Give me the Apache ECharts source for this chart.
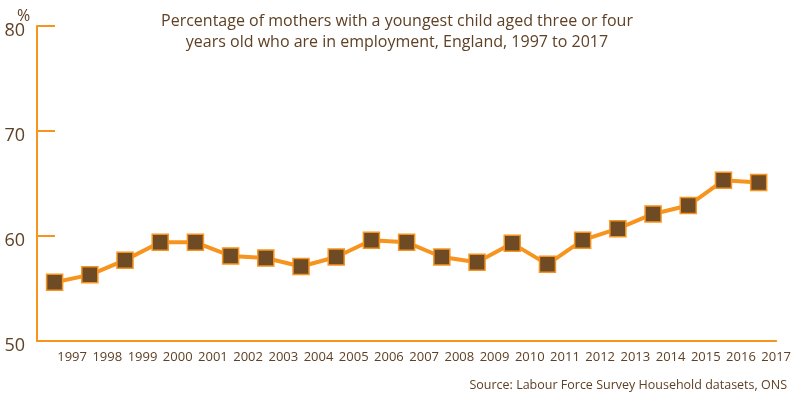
<!DOCTYPE html>
<html>
<head>
<meta charset="utf-8">
<script src="https://cdn.jsdelivr.net/npm/echarts@6/dist/echarts.min.js"></script>
<style>
  html, body { margin: 0; padding: 0; background: #fff; }
  #chart { width: 794px; height: 396px; }
</style>
</head>
<body>
<div id="chart"></div>
<script>
const years = ['1997', '1998', '1999', '2000', '2001', '2002', '2003', '2004', '2005', '2006', '2007',
  '2008', '2009', '2010', '2011', '2012', '2013', '2014', '2015', '2016', '2017'];
const employed = [55.6, 56.3, 57.7, 59.4, 59.4, 58.1, 57.9, 57.1, 58.0, 59.6, 59.4,
  58.0, 57.5, 59.3, 57.3, 59.6, 60.7, 62.1, 62.9, 65.3, 65.1];

const orange = '#F7941E';
const brown = '#6E4B25';
const textColor = '#5F4125';
const font = 'Open Sans';

const chart = echarts.init(document.getElementById('chart'));

const titleStyle = {
  fontFamily: font,
  fontSize: 16,
  fontWeight: 'normal',
  color: textColor
};

const option = {
  animation: false,
  title: [
    {
      text: 'Percentage of mothers with a youngest child aged three or four',
      left: 'center',
      top: 8,
      textStyle: titleStyle
    },
    {
      text: 'years old who are in employment, England, 1997 to 2017',
      left: 'center',
      top: 29,
      textStyle: titleStyle
    },
    {
      text: '%',
      left: 12,
      top: 3,
      textStyle: { fontFamily: font, fontSize: 16, fontWeight: 'normal', color: textColor }
    },
    {
      text: 'Source: Labour Force Survey Household datasets, ONS',
      right: 2,
      top: 374,
      textStyle: { fontFamily: font, fontSize: 12.5, fontWeight: 'normal', color: textColor }
    }
  ],
  grid: {
    left: 37,
    right: 16,
    top: 26,
    bottom: 55
  },
  xAxis: {
    type: 'category',
    data: years,
    boundaryGap: true,
    axisLine: { lineStyle: { color: orange, width: 2 } },
    axisTick: { inside: true, length: 7, interval: 0, lineStyle: { color: orange, width: 2 } },
    axisLabel: {
      interval: 0,
      margin: 10,
      padding: [0, 0, 0, 35],
      fontFamily: font,
      fontSize: 13,
      color: textColor
    }
  },
  yAxis: {
    type: 'value',
    min: 50,
    max: 80,
    interval: 10,
    axisLine: { show: true, lineStyle: { color: orange, width: 2 } },
    axisTick: { show: true, inside: true, length: 18, lineStyle: { color: orange, width: 2 } },
    splitLine: { show: false },
    axisLabel: {
      margin: 12,
      verticalAlign: 'top',
      lineHeight: 10,
      fontFamily: font,
      fontSize: 18,
      color: textColor
    }
  },
  series: [
    {
      name: 'Mothers in employment',
      type: 'line',
      data: employed,
      symbol: 'rect',
      symbolSize: 16,
      lineStyle: { color: orange, width: 4 },
      itemStyle: { color: brown, borderColor: orange, borderWidth: 1.5 }
    }
  ]
};

chart.setOption(option);
</script>
</body>
</html>
